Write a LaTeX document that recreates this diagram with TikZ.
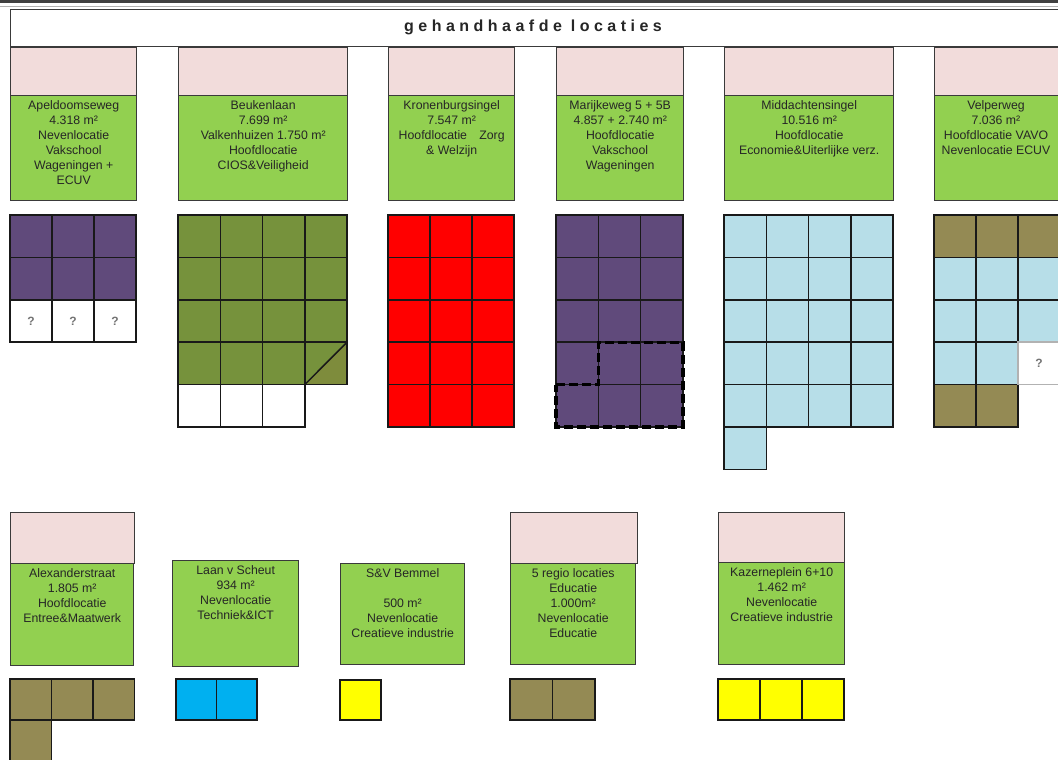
\documentclass[tikz,border=0pt]{standalone}
\usepackage{fontspec}
\setmainfont{Liberation Sans}
\usetikzlibrary{positioning}

\definecolor{roze}{HTML}{F2DCDB}
\definecolor{groen}{HTML}{92D050}
\definecolor{paars}{HTML}{604A7B}
\definecolor{olijf}{HTML}{76923C}
\definecolor{olijflicht}{HTML}{7E8C3C}
\definecolor{rood}{HTML}{FF0000}
\definecolor{lichtblauw}{HTML}{B7DEE8}
\definecolor{bruin}{HTML}{948A54}
\definecolor{cyaan}{HTML}{00B0F0}
\definecolor{geel}{HTML}{FFFF00}
\definecolor{rand}{HTML}{3A3A3A}

\tikzset{
  kop/.style={draw=rand, line width=1.4pt, fill=roze, minimum width=126pt,
    minimum height=48pt, anchor=north west, inner sep=0pt},
  vlak/.style={draw=rand, line width=1.4pt, fill=groen, minimum width=126pt,
    minimum height=105pt, anchor=north west, inner sep=0pt},
  info/.style={align=center, inner sep=0pt, text=black!85,
    font=\fontsize{12.3}{15}\selectfont},
  cel/.style={draw=black!90, line width=1.5pt},
  vraag/.style={text=black!55, font=\fontsize{12}{14}\selectfont\bfseries}
}

\begin{document}
\begin{tikzpicture}[x=1pt, y=-1pt]
        \useasboundingbox (0,0) rectangle (1058,760);

        % Titel
        \draw[line width=2.5pt, black!75] (0,1.5) -- (1058,1.5);
        \draw[line width=0.8pt, black!30] (0,6) -- (1058,6);
        \node[draw=rand, line width=1.4pt, fill=white, minimum width=1070pt,
          minimum height=37pt, anchor=north west] (titel) at (10,9) {};
        \node[font=\fontsize{16}{16}\selectfont\bfseries\addfontfeature{LetterSpace=28},
          text=black!85] (titeltekst) at (533,27) {gehandhaafde locaties};

        % Bovenste rij: kop + vlak
        \node[kop] (k1) at (10,47) {};
        \node[vlak] (v1) at (10,95) {};
        \node[info, below=5.5pt of v1.north] (t1)
          {Apeldoomseweg\\4.318 m²\\Nevenlocatie\\Vakschool\\Wageningen +\\ECUV};

        \node[kop, minimum width=169pt] (k2) at (178,47) {};
        \node[vlak, minimum width=169pt] (v2) at (178,95) {};
        \node[info, below=5.5pt of v2.north] (t2)
          {Beukenlaan\\7.699 m²\\Valkenhuizen 1.750 m²\\Hoofdlocatie\\CIOS\&Veiligheid};

        \node[kop] (k3) at (388,47) {};
        \node[vlak] (v3) at (388,95) {};
        \node[info, below=5.5pt of v3.north] (t3)
          {Kronenburgsingel\\7.547 m²\\Hoofdlocatie\quad Zorg\\\& Welzijn};

        \node[kop, minimum width=127pt] (k4) at (556,47) {};
        \node[vlak, minimum width=127pt] (v4) at (556,95) {};
        \node[info, below=5.5pt of v4.north] (t4)
          {Marijkeweg 5 + 5B\\4.857 + 2.740 m²\\Hoofdlocatie\\Vakschool\\Wageningen};

        \node[kop, minimum width=169pt] (k5) at (724,47) {};
        \node[vlak, minimum width=169pt] (v5) at (724,95) {};
        \node[info, below=5.5pt of v5.north] (t5)
          {Middachtensingel\\10.516 m²\\Hoofdlocatie\\Economie\&Uiterlijke verz.};

        \node[kop, minimum width=140pt] (k6) at (934,47) {};
        \node[vlak, minimum width=140pt] (v6) at (934,95) {};
        \node[info, anchor=north] (t6) at (996,100.5)
          {Velperweg\\7.036 m²\\Hoofdlocatie VAVO\\Nevenlocatie ECUV};

        % Vakken Apeldoomseweg
        \foreach \i in {0,1,2} {
          \foreach \j in {0,1}
            \draw[cel, fill=paars] ({10+42*\i},{215+42.4*\j}) rectangle ++(42,42.4);
          \draw[cel, fill=white] ({10+42*\i},299.8) rectangle ++(42,42.4)
            node[vraag, midway] (q1\i) {?};
        }

        % Vakken Beukenlaan
        \foreach \i in {0,...,3}
          \foreach \j in {0,...,3}
            \draw[cel, fill=olijf] ({178+42.25*\i},{215+42.4*\j}) rectangle ++(42.25,42.4);
        \fill[olijflicht] (304.75,384.6) -- (347,384.6) -- (347,342.2) -- cycle;
        \draw[cel] (304.75,342.2) rectangle (347,384.6);
        \draw[cel] (347,342.2) -- (304.75,384.6);
        \foreach \i in {0,1,2}
          \draw[cel, fill=white] ({178+42.25*\i},384.6) rectangle ++(42.25,42.4);

        % Vakken Kronenburgsingel
        \foreach \i in {0,1,2}
          \foreach \j in {0,...,4}
            \draw[cel, fill=rood] ({388+42*\i},{215+42.4*\j}) rectangle ++(42,42.4);

        % Vakken Marijkeweg
        \foreach \i in {0,1,2}
          \foreach \j in {0,...,4}
            \draw[cel, fill=paars] ({556+42.3*\i},{215+42.4*\j}) rectangle ++(42.3,42.4);
        \draw[line width=3.2pt, dash pattern=on 9pt off 4pt]
          (556,384.6) -- (598.3,384.6) -- (598.3,342.2) -- (683,342.2)
          -- (683,427) -- (556,427) -- cycle;

        % Vakken Middachtensingel
        \foreach \i in {0,...,3}
          \foreach \j in {0,...,4}
            \draw[cel, fill=lichtblauw] ({724+42.25*\i},{215+42.4*\j}) rectangle ++(42.25,42.4);
        \draw[cel, fill=lichtblauw] (724,427) rectangle ++(42.25,42.4);

        % Vakken Velperweg
        \foreach \i in {0,1,2} {
          \draw[cel, fill=bruin] ({934+42*\i},215) rectangle ++(42,42.4);
          \foreach \j in {1,2}
            \draw[cel, fill=lichtblauw] ({934+42*\i},{215+42.4*\j}) rectangle ++(42,42.4);
        }
        \foreach \i in {0,1} {
          \draw[cel, fill=lichtblauw] ({934+42*\i},342.2) rectangle ++(42,42.4);
          \draw[cel, fill=bruin] ({934+42*\i},384.6) rectangle ++(42,42.4);
        }
        \draw[cel, draw=black!30, fill=white] (1018,342.2) rectangle ++(42,42.4)
          node[vraag, midway] (q6) {?};

        % Onderste rij
        \node[kop, minimum width=124pt, minimum height=51pt] (k7) at (10,512) {};
        \node[vlak, minimum width=123pt, minimum height=102pt] (v7) at (10,563) {};
        \node[info, below=5pt of v7.north] (t7)
          {Alexanderstraat\\1.805 m²\\Hoofdlocatie\\Entree\&Maatwerk};

        \node[vlak, minimum height=106pt] (v8) at (172,560) {};
        \node[info, below=5pt of v8.north] (t8)
          {Laan v Scheut\\934 m²\\Nevenlocatie\\Techniek\&ICT};

        \node[vlak, minimum width=124pt, minimum height=101pt] (v9) at (340,563) {};
        \node[info, below=5pt of v9.north] (t9)
          {S\&V Bemmel\\[15pt]500 m²\\Nevenlocatie\\Creatieve industrie};

        \node[kop, minimum width=127pt, minimum height=51pt] (k10) at (510,512) {};
        \node[vlak, minimum width=125pt, minimum height=101pt] (v10) at (510,563) {};
        \node[info, below=5pt of v10.north] (t10)
          {5 regio locaties\\Educatie\\1.000m²\\Nevenlocatie\\Educatie};

        \node[kop, minimum height=50pt] (k11) at (718,512) {};
        \node[vlak, minimum height=102pt] (v11) at (718,562) {};
        \node[info, below=5pt of v11.north] (t11)
          {Kazerneplein 6+10\\1.462 m²\\Nevenlocatie\\Creatieve industrie};

        % Vakken onderste rij
        \foreach \i in {0,1,2}
          \draw[cel, fill=bruin] ({10+41.5*\i},679) rectangle ++(41.5,41);
        \draw[cel, fill=bruin] (10,720) rectangle ++(41.5,41);
        \foreach \i in {0,1}
          \draw[cel, fill=cyaan] ({176+40.5*\i},679) rectangle ++(40.5,41);
        \draw[cel, fill=geel] (340,680) rectangle ++(41,40);
        \foreach \i in {0,1}
          \draw[cel, fill=bruin] ({510+42.5*\i},679) rectangle ++(42.5,41);
        \foreach \i in {0,1,2}
          \draw[cel, fill=geel] ({718+42*\i},679) rectangle ++(42,41);
\end{tikzpicture}
\end{document}
